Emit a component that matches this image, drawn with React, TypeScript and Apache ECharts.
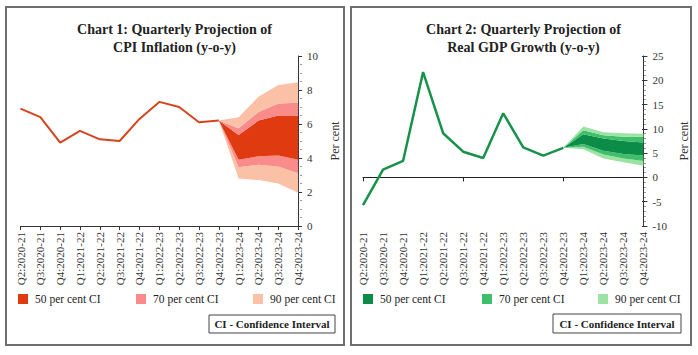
import React, { useEffect, useRef } from "react";
import * as echarts from "echarts";

const categories = [
  "Q2:2020-21", "Q3:2020-21", "Q4:2020-21", "Q1:2021-22", "Q2:2021-22",
  "Q3:2021-22", "Q4:2021-22", "Q1:2022-23", "Q2:2022-23", "Q3:2022-23",
  "Q4:2022-23", "Q1:2023-24", "Q2:2023-24", "Q3:2023-24", "Q4:2023-24",
];
const legendNames = ["50 per cent CI", "70 per cent CI", "90 per cent CI"];

// Chart 1: CPI inflation (actual up to Q4:2022-23)
const cpiActual = [6.9, 6.4, 4.9, 5.6, 5.1, 5.0, 6.3, 7.3, 7.0, 6.1, 6.2];
// Fan bands from Q4:2022-23 to Q4:2023-24
const cpiLower90 = [6.2, 2.8, 2.7, 2.5, 1.95];
const cpiLower70 = [6.2, 3.45, 3.6, 3.5, 3.1];
const cpiLower50 = [6.2, 3.9, 4.1, 4.15, 3.9];
const cpiUpper50 = [6.2, 5.35, 6.2, 6.5, 6.5];
const cpiUpper70 = [6.2, 5.75, 6.7, 7.2, 7.25];
const cpiUpper90 = [6.2, 6.4, 7.6, 8.3, 8.45];

// Chart 2: Real GDP growth
const gdpActual = [-5.7, 1.6, 3.4, 21.7, 9.1, 5.3, 4.0, 13.2, 6.2, 4.5, 6.1];
const gdpLower90 = [6.1, 5.8, 3.9, 3.1, 2.4];
const gdpLower70 = [6.1, 6.3, 4.7, 3.9, 3.4];
const gdpLower50 = [6.1, 6.9, 5.5, 4.8, 4.5];
const gdpUpper50 = [6.1, 8.9, 8.0, 7.5, 7.2];
const gdpUpper70 = [6.1, 9.7, 8.7, 8.4, 8.35];
const gdpUpper90 = [6.1, 10.5, 9.3, 9.1, 9.0];

const FONT = "'Liberation Serif', 'DejaVu Serif', serif";
const PANEL_W = 349;
const PANEL_H = 355;
const GRID_TOP = 56;
const GRID_BOTTOM = 129;

type Panel = {
  title: string;
  actual: number[];
  bands: number[][]; // low90, low70, low50, up50, up70, up90
  line: string;
  lineWidth: number;
  c50: string;
  c70: string;
  c90: string;
  yMin: number;
  yMax: number;
  yInterval: number;
  minorSplit: number;
  gridLeft: number;
  gridRight: number;
  legendLefts: number[];
  box: { x: number; y: number; w: number; h: number };
  border: { x: number; y: number; w: number; h: number };
  nameGap: number;
  zeroAxis: boolean;
};

const pad = (arr: number[]) => [
  ...Array(categories.length - arr.length).fill("-"),
  ...arr,
];

function buildOption(p: Panel): any {
  const gridWidth = PANEL_W - p.gridLeft - p.gridRight;
  const [l90, l70, l50, u50, u70, u90] = p.bands;
  const diff = (a: number[], b: number[]) =>
    a.map((v, i) => Math.round((v - b[i]) * 100) / 100);
  const layers = [
    { name: "base", data: l90, color: "" },
    { name: legendNames[2], data: diff(l70, l90), color: p.c90 },
    { name: legendNames[1], data: diff(l50, l70), color: p.c70 },
    { name: legendNames[0], data: diff(u50, l50), color: p.c50 },
    { name: legendNames[1], data: diff(u70, u50), color: p.c70 },
    { name: legendNames[2], data: diff(u90, u70), color: p.c90 },
  ];
  const fan = layers.map((l) => ({
    type: "line",
    name: l.name,
    stack: "fan",
    data: pad(l.data),
    symbol: "none",
    showSymbol: false,
    silent: true,
    z: 2,
    lineStyle: { width: 0, opacity: 0 },
    itemStyle: { color: l.color || "rgba(0,0,0,0)" },
    areaStyle: l.color ? { color: l.color, opacity: 1 } : undefined,
  }));

  const xAxes: any[] = [
    {
      type: "category",
      data: categories,
      boundaryGap: false,
      position: "bottom",
      axisLine: p.zeroAxis
        ? { show: false }
        : { show: true, onZero: false, lineStyle: { color: "#333", width: 1 } },
      axisTick: p.zeroAxis
        ? { show: false }
        : { show: true, length: 4, lineStyle: { color: "#333" } },
      axisLabel: { rotate: 90, margin: 6, fontSize: 11, fontFamily: FONT, color: "#333" },
      splitLine: { show: false },
    },
  ];
  if (p.zeroAxis) {
    xAxes.push({
      type: "category",
      data: categories,
      boundaryGap: false,
      position: "top",
      axisLine: { show: true, onZero: true, lineStyle: { color: "#222", width: 1 } },
      axisTick: { show: true, inside: true, length: 4, lineStyle: { color: "#222" } },
      axisLabel: { show: false },
      splitLine: { show: false },
    });
  }
  const yBase = {
    type: "value",
    min: p.yMin,
    max: p.yMax,
    interval: p.yInterval,
    splitLine: { show: false },
  };
  const yAxes = [
    {
      ...yBase,
      position: "right",
      axisLine: { show: true, lineStyle: { color: "#333", width: 1 } },
      axisTick: { show: true, length: 4, lineStyle: { color: "#333" } },
      minorTick: { show: false },
      axisLabel: { margin: 9, fontSize: 11, fontFamily: FONT, color: "#333" },
      name: "Per cent",
      nameLocation: "middle",
      nameGap: p.nameGap,
      nameRotate: 90,
      nameTextStyle: { fontSize: 12, fontFamily: FONT, color: "#333" },
    },
    {
      ...yBase,
      position: "left",
      offset: -gridWidth,
      axisLine: { show: false },
      axisTick: { show: true, length: 4, lineStyle: { color: "#333" } },
      minorTick: { show: true, splitNumber: p.minorSplit, length: 2, lineStyle: { color: "#999" } },
      axisLabel: { show: false },
    },
  ];

  return {
    animation: false,
    backgroundColor: "#fff",
    title: {
      text: p.title,
      left: "center",
      top: 15,
      textStyle: {
        fontFamily: FONT,
        fontWeight: "bold",
        fontSize: 14,
        color: "#222",
        lineHeight: 18,
      },
    },
    grid: {
      left: p.gridLeft,
      right: p.gridRight,
      top: GRID_TOP,
      bottom: GRID_BOTTOM,
      containLabel: false,
    },
    legend: legendNames.map((n, i) => ({
      data: [n],
      left: p.legendLefts[i],
      top: 293,
      padding: 0,
      icon: "rect",
      itemWidth: 10,
      itemHeight: 10,
      selectedMode: false,
      textStyle: { fontFamily: FONT, fontSize: 11.5, color: "#222", padding: [0, 0, 0, 2] },
    })),
    xAxis: xAxes,
    yAxis: yAxes,
    series: [
      ...fan,
      {
        type: "line",
        name: "actual",
        data: p.actual,
        symbol: "none",
        showSymbol: false,
        silent: true,
        z: 3,
        lineStyle: { color: p.line, width: p.lineWidth },
        itemStyle: { color: p.line },
      },
    ],
    graphic: [
      {
        type: "rect",
        shape: { x: p.border.x, y: p.border.y, width: p.border.w, height: p.border.h },
        style: { fill: "none", stroke: "#6e6e6e", lineWidth: 2 },
        silent: true,
      },
      {
        type: "rect",
        shape: { x: p.box.x, y: p.box.y, width: p.box.w, height: p.box.h },
        style: { fill: "#fff", stroke: "#444", lineWidth: 1 },
        silent: true,
      },
      {
        type: "text",
        x: p.box.x + p.box.w / 2,
        y: p.box.y + p.box.h / 2,
        style: {
          text: "CI - Confidence Interval",
          fontFamily: FONT,
          fontWeight: "bold",
          fontSize: 11,
          fill: "#222",
          align: "center",
          verticalAlign: "middle",
        },
        silent: true,
      },
    ],
  };
}

const panels: Panel[] = [
  {
    title: "Chart 1: Quarterly Projection of\nCPI Inflation (y-o-y)",
    actual: cpiActual,
    bands: [cpiLower90, cpiLower70, cpiLower50, cpiUpper50, cpiUpper70, cpiUpper90],
    line: "#D6441D",
    lineWidth: 2,
    c50: "#E03A10",
    c70: "#F98C8A",
    c90: "#FBC1A7",
    yMin: 0,
    yMax: 10,
    yInterval: 2,
    minorSplit: 4,
    gridLeft: 20.5,
    gridRight: 47,
    legendLefts: [18, 136, 253],
    box: { x: 209, y: 315, w: 126, h: 18 },
    border: { x: 6, y: 7, w: 338, h: 338 },
    nameGap: 24,
    zeroAxis: false,
  },
  {
    title: "Chart 2: Quarterly Projection of\nReal GDP Growth (y-o-y)",
    actual: gdpActual,
    bands: [gdpLower90, gdpLower70, gdpLower50, gdpUpper50, gdpUpper70, gdpUpper90],
    line: "#17924B",
    lineWidth: 2.5,
    c50: "#0B8C47",
    c70: "#40BF6B",
    c90: "#9CE3A3",
    yMin: -10,
    yMax: 25,
    yInterval: 5,
    minorSplit: 5,
    gridLeft: 14,
    gridRight: 52,
    legendLefts: [14, 133, 249],
    box: { x: 204, y: 314, w: 128, h: 19 },
    border: { x: 2, y: 7, w: 340, h: 338 },
    nameGap: 27,
    zeroAxis: true,
  },
];

export default function App() {
  const ref1 = useRef<HTMLDivElement>(null);
  const ref2 = useRef<HTMLDivElement>(null);
  useEffect(() => {
    const charts = [ref1.current, ref2.current].map((el, i) => {
      const c = echarts.init(el as HTMLDivElement, undefined, { renderer: "svg" });
      c.setOption(buildOption(panels[i]));
      return c;
    });
    return () => charts.forEach((c) => c.dispose());
  }, []);
  return (
    <div style={{ position: "absolute", left: 0, top: 0, width: 698, height: PANEL_H, background: "#fff" }}>
      <div ref={ref1} style={{ position: "absolute", left: 0, top: 0, width: PANEL_W, height: PANEL_H }} />
      <div ref={ref2} style={{ position: "absolute", left: PANEL_W, top: 0, width: PANEL_W, height: PANEL_H }} />
    </div>
  );
}
